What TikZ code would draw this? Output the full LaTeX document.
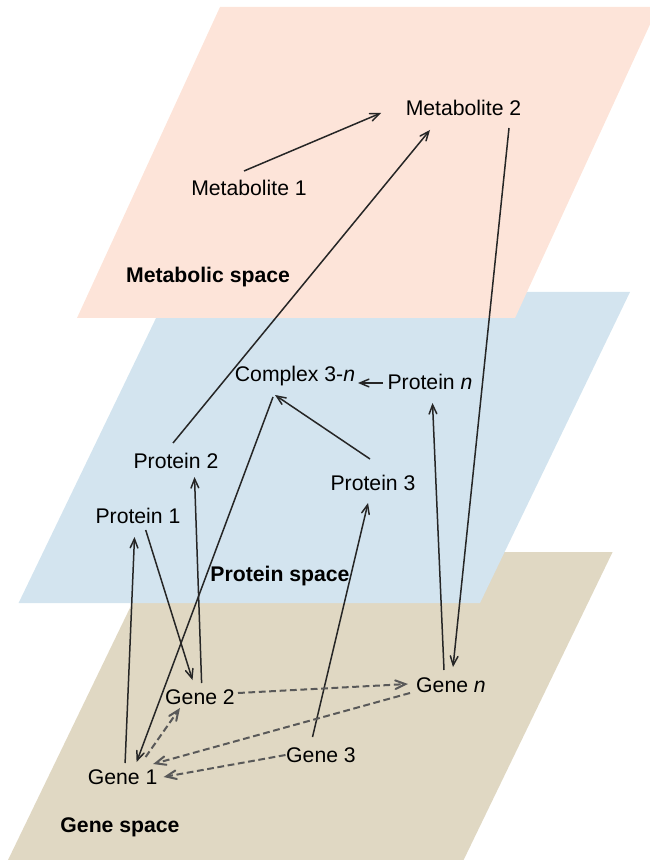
\documentclass[tikz,border=0pt]{standalone}
\usepackage{fontspec}
\setmainfont{Liberation Sans}
\usepackage{tikz}
\usetikzlibrary{calc}
\usetikzlibrary{arrows}
\definecolor{metapink}{HTML}{FDE4D9}
\definecolor{protblue}{HTML}{D3E4EF}
\definecolor{genetan}{HTML}{E0D8C3}
\newcommand{\VarN}{\textit{n}}
\newcommand{\NameCplx}{Complex 3-\VarN}

\begin{document}
\begin{tikzpicture}[x=0.5pt,y=-0.5pt,>=angle 45,
    every node/.style={font=\fontsize{10.6}{12}\selectfont, inner sep=0pt},
    spacelbl/.style={font=\fontsize{10.6}{12}\selectfont\bfseries},
    link/.style={->, line width=0.75pt, black!85},
    dlink/.style={->, line width=1pt, black!65, dash pattern=on 3.4pt off 1.8pt}]

      \useasboundingbox (0,0) rectangle (649,860);

      % the three planes
      \fill[genetan] (157,552) -- (612.6,552) -- (463.6,860) -- (8,860) -- cycle;
      \fill[protblue] (168.6,292) -- (630,292) -- (480,603) -- (18.6,603) -- cycle;
      \fill[metapink] (220,7) -- (658,7) -- (515,318) -- (77,318) -- cycle;

      \node[spacelbl] (lmeta) at (208,277) {Metabolic space};
      \node[spacelbl] (lprot) at (280,576) {Protein space};
      \node[spacelbl] (lgene) at (120,827) {Gene space};

      \node (m1) at (249,188) {Metabolite 1};
      \node (m2) at (463.5,108) {Metabolite 2};

      \node (cx) at (295,376) {\NameCplx};
      \node (pn) at (430,382) {Protein \VarN};
      \node (p2) at (176,461) {Protein 2};
      \node (p3) at (373,483) {Protein 3};
      \node (p1) at (138,516) {Protein 1};

      \node (g2) at (200,697) {Gene 2};
      \node (gn) at (451,685) {Gene \VarN};
      \node (g3) at (321,755) {Gene 3};
      \node (g1) at (122.6,777) {Gene 1};

      \draw [link] ($(m1)+(-5,-17)$) -- ($(m2)+(-82.5,5)$);
      \draw [link] ($(p2)+(-3,-18)$) -- ($(m2)+(-33.5,22)$);
      \draw [link] ($(m2)+(45.5,20)$) -- ($(gn)+(2,-18)$);
      \draw [link] ($(pn)+(-47,1)$) -- ($(cx)+(63,7)$);
      \draw [link] ($(p3)+(-3,-24)$) -- ($(cx)+(-20,19)$);
      \draw [link] ($(cx)+(-22,21)$) -- ($(g1)+(14,-15)$);
      \draw [link] ($(gn)+(-7,-15)$) -- ($(pn)+(2.5,21)$);
      \draw [link] ($(g1)+(2.5,-14)$) -- ($(p1)+(-3.5,21)$);
      \draw [link] ($(p1)+(7.7,14)$) -- ($(g2)+(-7.5,-17)$);
      \draw [link] ($(g2)+(1.6,-14)$) -- ($(p2)+(18.5,16)$);
      \draw [link] ($(g3)+(-8.5,-18)$) -- ($(p3)+(-5,20)$);

      \draw [dlink] ($(g2)+(38,-4)$) -- ($(gn)+(-43,-1)$);
      \draw [dlink] ($(gn)+(-41,8)$) -- ($(g1)+(30.5,-13)$);
      \draw [dlink] ($(g3)+(-35.5,0)$) -- ($(g1)+(41,0)$);
      \draw [dlink] ($(g1)+(23,-20)$) -- ($(g2)+(-20,11)$);
\end{tikzpicture}
\end{document}
